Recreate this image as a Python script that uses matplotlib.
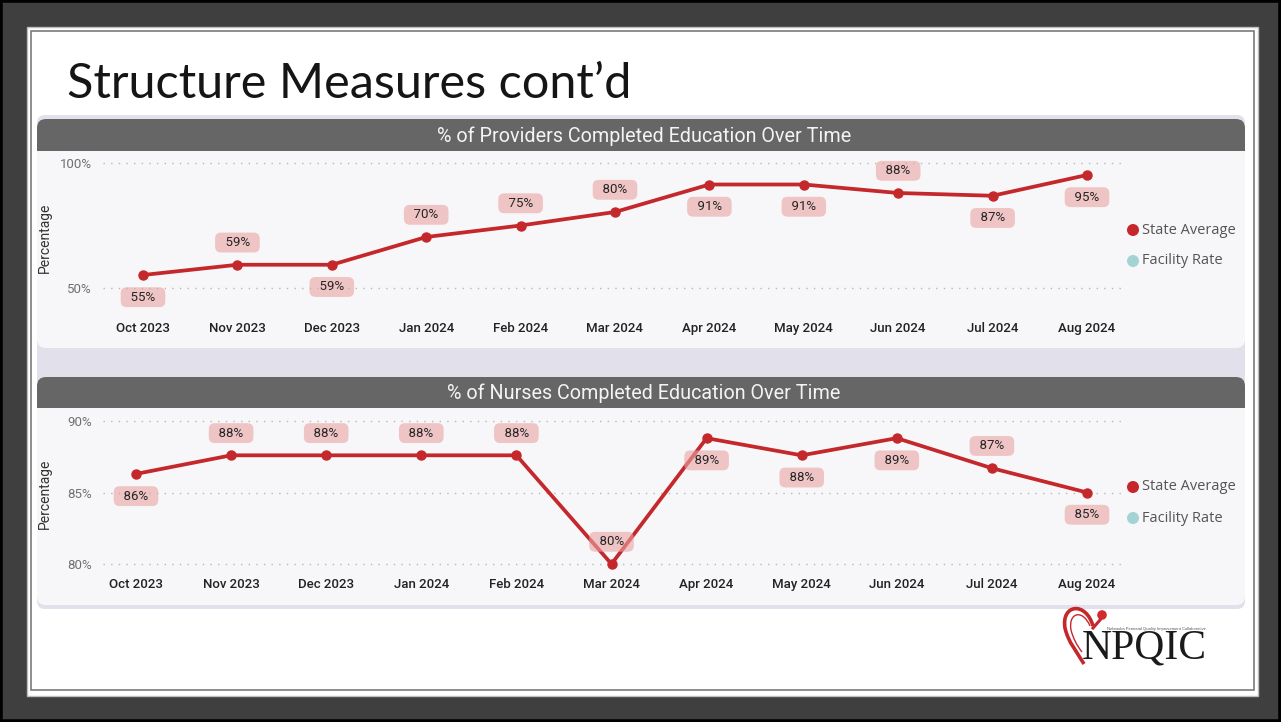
import numpy as np
import matplotlib.pyplot as plt
from matplotlib.patches import FancyBboxPatch, Rectangle, Circle, PathPatch
from matplotlib.path import Path

# data
months = ["Oct 2023", "Nov 2023", "Dec 2023", "Jan 2024", "Feb 2024", "Mar 2024",
          "Apr 2024", "May 2024", "Jun 2024", "Jul 2024", "Aug 2024"]
providers = [55.2, 59.3, 59.3, 70.4, 75.0, 80.4, 91.4, 91.4, 88.0, 86.9, 95.2]
nurses = [86.3, 87.6, 87.6, 87.6, 87.6, 80.0, 88.8, 87.6, 88.8, 86.7, 85.0]
providers_side = ["below", "above", "below", "above", "above", "above",
                  "below", "below", "above", "below", "below"]
nurses_side = ["below", "above", "above", "above", "above", "above",
               "below", "below", "below", "above", "below"]
providers_ticks = [50, 100]
nurses_ticks = [80, 85, 90]
legend_names = ["State Average", "Facility Rate"]

W, H = 1281, 722
RED = "#c4282b"
TEAL = "#a3d3d3"
PANEL = "#f7f7f9"
LAVENDER = "#e2e0eb"
HEADER = "#666666"

fig = plt.figure(figsize=(W / 100, H / 100), dpi=100)
fig.patch.set_facecolor("#3f3f3f")

# background axes in pixel units (y going down)
bg = fig.add_axes([0, 0, 1, 1])
bg.set_xlim(0, W)
bg.set_ylim(H, 0)
bg.axis("off")
bg.set_zorder(0)

bg.add_patch(Rectangle((0, 0), W, H, fill=False, ec="black", lw=4))
bg.add_patch(Rectangle((27, 27), 1231, 669, fc="white", ec="#bdbdbd", lw=1))
bg.add_patch(Rectangle((31, 31), 1223, 659, fill=False, ec="#7a7a7a", lw=1.2))

bg.text(67, 98, "Structure Measures cont\u2019d", fontsize=35, family="Lato",
        color="#151515", va="baseline")

# panels
bg.add_patch(FancyBboxPatch((37, 115), 1208, 494, boxstyle="round,pad=0,rounding_size=8",
                            fc=LAVENDER, ec="none"))


def panel(y0, y_head, y1, title):
    bg.add_patch(FancyBboxPatch((37, y0), 1208, y1 - y0, boxstyle="round,pad=0,rounding_size=9",
                                fc=PANEL, ec="none"))
    bg.add_patch(FancyBboxPatch((37, y0), 1208, y_head - y0 + 15,
                                boxstyle="round,pad=0,rounding_size=9", fc=HEADER, ec="none"))
    bg.add_patch(Rectangle((37, y_head), 1208, 20, fc=PANEL, ec="none"))
    bg.text(644, (y0 + y_head) / 2 + 1, title, color="#f4f4f4", fontsize=14.2, family="Roboto",
            ha="center", va="center")


panel(119, 151, 348, "% of Providers Completed Education Over Time")
panel(377, 408, 605, "% of Nurses Completed Education Over Time")


def chart(box, values, sides, ticks, tick_px, x_first, x_last, label_y, ylabel_y):
    x0, y0, x1, y1 = box
    ax = fig.add_axes([x0 / W, 1 - y1 / H, (x1 - x0) / W, (y1 - y0) / H])
    ax.set_zorder(1)
    ax.patch.set_alpha(0)
    for s in ax.spines.values():
        s.set_visible(False)

    n = len(values)
    px_per_x = (x_last - x_first) / (n - 1)
    ax.set_xlim((x0 - x_first) / px_per_x, (n - 1) + (x1 - x_last) / px_per_x)
    (v_hi, p_hi), (v_lo, p_lo) = (ticks[-1], tick_px[0]), (ticks[0], tick_px[1])
    px_per_y = (p_lo - p_hi) / (v_hi - v_lo)
    ax.set_ylim(v_lo - (y1 - p_lo) / px_per_y, v_hi + (p_hi - y0) / px_per_y)

    ax.set_yticks(ticks, [f"{t}%" for t in ticks])
    ax.grid(axis="y", ls=(0, (1, 4.5)), color="#b8b8b8", lw=1)
    ax.tick_params(axis="y", length=0, pad=8, labelsize=9.5, labelcolor="#707070")
    for t in ax.get_yticklabels():
        t.set_family("Roboto")

    xs = np.arange(n)
    ax.set_xticks(xs, months)
    ax.tick_params(axis="x", length=0, pad=(label_y - 6 - y1) * 0.72, labelsize=9.5,
                   labelcolor="#222222")
    for t in ax.get_xticklabels():
        t.set_family("Roboto")
        t.set_weight("medium")

    ax.plot(xs, values, color=RED, lw=2.7, marker="o", ms=6.5, zorder=3, clip_on=False)
    for x, v, side in zip(xs, values, sides):
        dy = 16 if side == "above" else -16
        ax.annotate(f"  {v:.0f}%  ", (x, v), xytext=(0, dy), textcoords="offset points",
                    ha="center", va="center", fontsize=9.5, family="Roboto", color="#252525",
                    bbox=dict(boxstyle="round,pad=0.26,rounding_size=0.45", fc="#eaa2a2",
                              alpha=0.6, ec="none"), zorder=4)

    ax.set_ylabel("Percentage", fontsize=10, family="Roboto", color="#333333")
    ax.yaxis.set_label_coords((52 - x0) / (x1 - x0), (y1 - ylabel_y) / (y1 - y0))
    return ax


chart((103, 152, 1122, 312), providers, providers_side, providers_ticks, (163, 288),
      143, 1087, 328, 238)
chart((103, 409, 1122, 570), nurses, nurses_side, nurses_ticks, (421, 564),
      136, 1087, 584, 494)

# legends
for ly in (230, 487):
    for k, (name, col) in enumerate(zip(legend_names, [RED, TEAL])):
        yy = ly + 31 * k
        bg.add_patch(Circle((1133, yy), 6, fc=col, ec="none"))
        bg.text(1142, yy, name, fontsize=10.5, family="Open Sans", color="#555555", va="center")

# logo
bg.text(1144, 648, "NPQIC", family="Liberation Serif", fontsize=30, color="#1a1a1a",
        ha="center", va="center")
bg.text(1107, 629, "Nebraska Perinatal Quality Improvement Collaborative", fontsize=3.0,
        color="#555555", va="center", family="Liberation Sans")
heart = Path([(1093, 626), (1086, 601), (1061, 604), (1065, 628), (1068, 642), (1077, 652),
              (1084, 664)],
             [Path.MOVETO, Path.CURVE4, Path.CURVE4, Path.CURVE4, Path.CURVE4, Path.CURVE4,
              Path.CURVE4])
bg.add_patch(PathPatch(heart, fill=False, ec=RED, lw=2.6))
inner = Path([(1090, 626), (1083, 609), (1068, 612), (1071, 630), (1074, 642), (1082, 652)],
             [Path.MOVETO, Path.CURVE4, Path.CURVE4, Path.CURVE4, Path.CURVE3, Path.CURVE3])
bg.add_patch(PathPatch(inner, fill=False, ec=RED, lw=1.0))
bg.add_patch(Circle((1102, 615), 4.8, fc="#d42a2e", ec="none"))
bg.plot([1093, 1100], [628, 620], color=RED, lw=2.2)

fig.savefig("out.png", dpi=100, facecolor=fig.get_facecolor())
